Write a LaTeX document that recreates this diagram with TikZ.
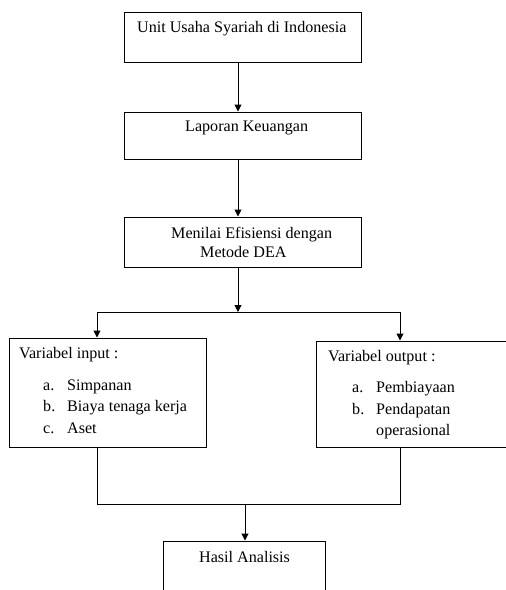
\documentclass[tikz,border=0pt]{standalone}
\usepackage{fontspec}
\setmainfont{Liberation Serif}
\usetikzlibrary{arrows.meta,calc}
\begin{document}
\begin{tikzpicture}[x=1pt,y=-1pt,
  box/.style={draw,line width=1pt,inner sep=0pt,rectangle},
  lbl/.style={anchor=base west,inner sep=0pt,font=\fontsize{16.1}{19}\selectfont},
  conn/.style={line width=1pt},
  arr/.style={conn,-{Triangle[length=7pt,width=7pt]}}]
\path[use as bounding box] (0,0) rectangle (506,590);
\clip (0,0) rectangle (506,590);
% boxes
\node[box,minimum width=237pt,minimum height=50pt] (b1) at (242.5,37) {};
\node[box,minimum width=237pt,minimum height=47pt] (b2) at (242.5,135.5) {};
\node[box,minimum width=237pt,minimum height=50pt] (b3) at (242.5,242) {};
\node[box,minimum width=197pt,minimum height=109pt] (bl) at (107.5,392.5) {};
\node[box,minimum width=204pt,minimum height=106pt] (br) at (418,394) {};
\node[box,minimum width=162pt,minimum height=69pt] (bh) at (244,575.5) {};
% texts
\node[lbl] (t1) at (137,32) {Unit Usaha Syariah di Indonesia};
\node[lbl] (t2) at (185,131) {Laporan Keuangan};
\node[lbl] (t3a) at (171,238) {Menilai Efisiensi dengan};
\node[lbl] (t3b) at (200,257) {Metode DEA};
\node[lbl] (tl0) at (19,358) {Variabel input :};
\node[lbl] (tla) at (43,390) {a.};
\node[lbl] (tlat) at (67,390) {Simpanan};
\node[lbl] (tlb) at (43,411.5) {b.};
\node[lbl] (tlbt) at (67,411.5) {Biaya tenaga kerja};
\node[lbl] (tlc) at (43,433) {c.};
\node[lbl] (tlct) at (67,433) {Aset};
\node[lbl] (tr0) at (328,361) {Variabel output :};
\node[lbl] (tra) at (352,392) {a.};
\node[lbl] (trat) at (376,392) {Pembiayaan};
\node[lbl] (trb) at (352,414) {b.};
\node[lbl] (trbt) at (376,414) {Pendapatan};
\node[lbl] (trbu) at (376,435) {operasional};
\node[lbl] (th) at (199,562) {Hasil Analisis};
% connector coordinates
\coordinate (c1) at (238,0);
\coordinate (s1) at (238,312);
\coordinate (sl) at (97,312);
\coordinate (sr) at (400,312);
\coordinate (ml) at (97,504);
\coordinate (mr) at (400,504);
\coordinate (mh) at (245,504);
% connectors
\draw[arr] (b1.south -| c1) -- (b2.north -| c1);
\draw[arr] (b2.south -| c1) -- (b3.north -| c1);
\draw[arr] (b3.south -| s1) -- (s1);
\draw[conn] (sl) -- (sr);
\draw[arr] (sl) -- (sl |- bl.north);
\draw[arr] (sr) -- (sr |- br.north);
\draw[conn] (ml |- bl.south) -- (ml) -- (mr) -- (mr |- br.south);
\draw[arr] (mh) -- (mh |- bh.north);
\end{tikzpicture}
\end{document}
